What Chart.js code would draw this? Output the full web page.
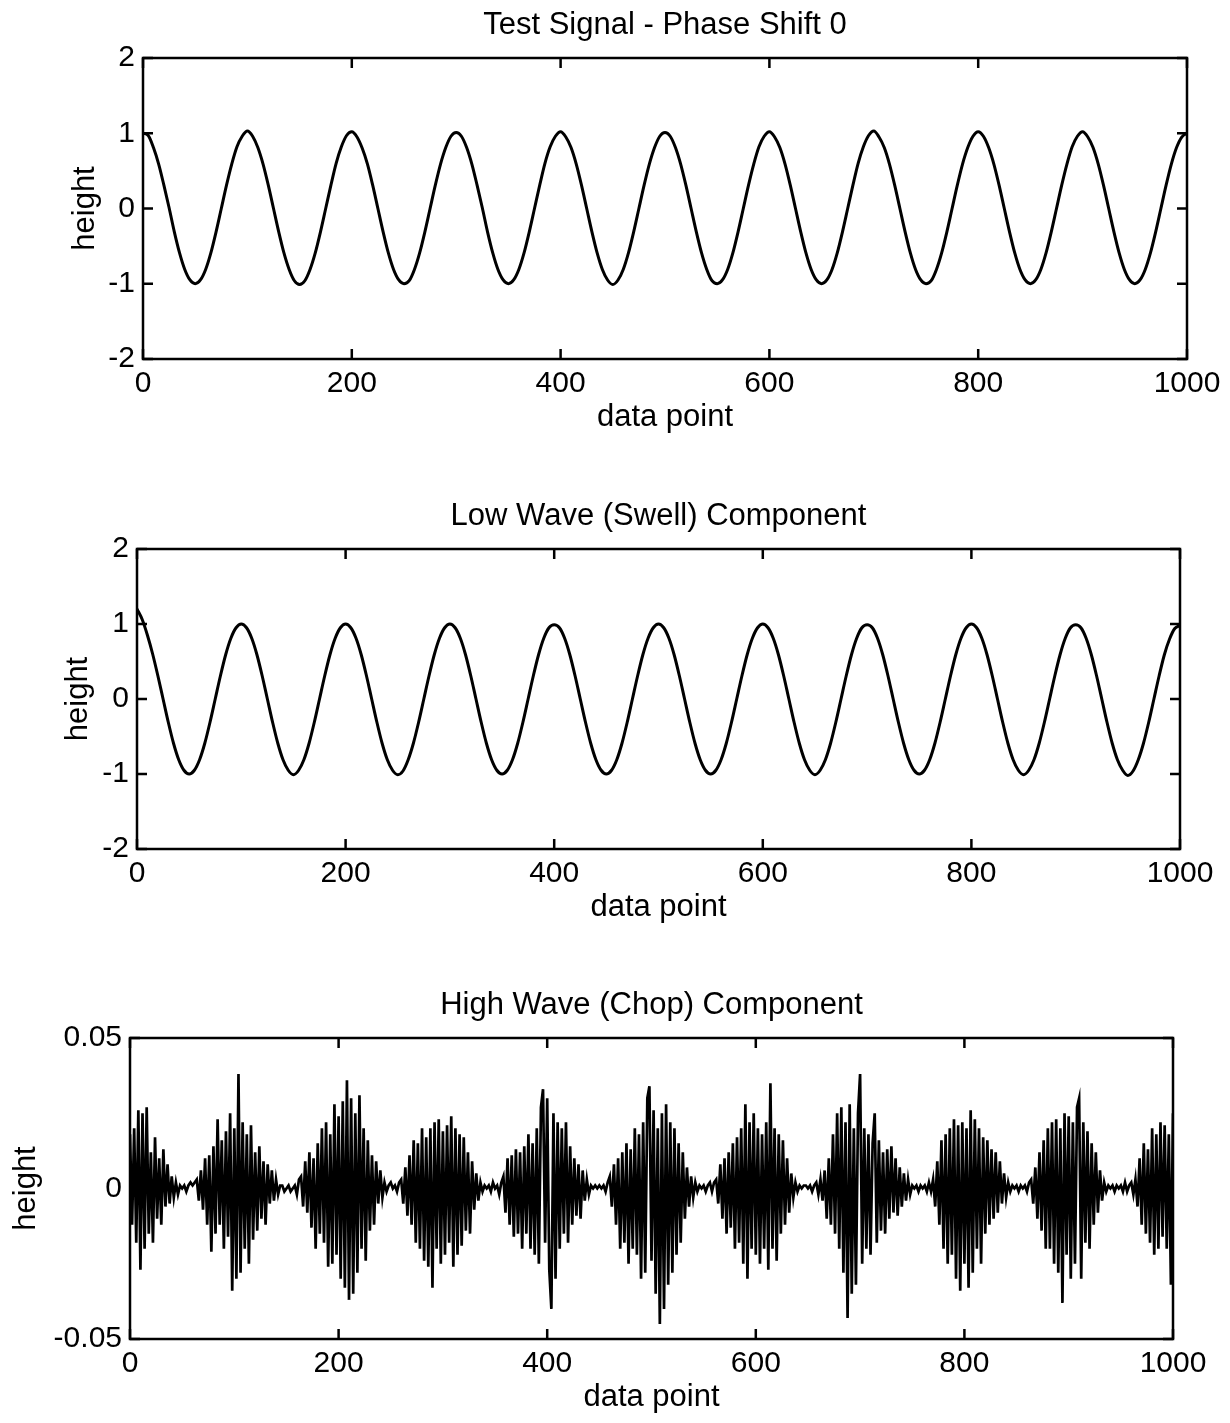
<!DOCTYPE html>
<html>
<head>
<meta charset="utf-8">
<title>Test signal decomposition</title>
<script src="https://cdn.jsdelivr.net/npm/chart.js@4.4.1/dist/chart.umd.min.js"></script>
<style>
    html, body { margin: 0; padding: 0; background: #fff; overflow: hidden; }
    canvas { position: absolute; left: 0; }
</style>
</head>
<body>
<canvas id="test-chart" width="1230" height="460" style="top:0px"></canvas>
<canvas id="swell-chart" width="1230" height="460" style="top:491px"></canvas>
<canvas id="chop-chart" width="1230" height="443" style="top:980px"></canvas>
<script>
// axis ticks
const xTicks = [0, 200, 400, 600, 800, 1000];
const xTickLabels = ['0', '200', '400', '600', '800', '1000'];
const heightTicks = [-2, -1, 0, 1, 2];
const heightTickLabels = ['-2', '-1', '0', '1', '2'];
const chopTicks = [-0.05, 0, 0.05];
const chopTickLabels = ['-0.05', '0', '0.05'];

// sample spacing (data points) of the arrays below
const swellStep = 5;
const chopStep = 2;

// test signal, one swell cycle per row (x = 0, 5, 10 ... 1000)
const testHeight = [
    1.00, .97, .81, .59, .31, .01, -.31, -.59, -.81, -.95, -1.00, -.95, -.81, -.59, -.31, .00, .31, .59, .82, .96,
    1.03, .96, .81, .59, .31, .00, -.31, -.59, -.81, -.96, -1.01, -.96, -.81, -.59, -.31, .00, .31, .60, .82, .97,
    1.02, .95, .80, .59, .31, .00, -.31, -.59, -.81, -.95, -1.00, -.96, -.81, -.59, -.31, .00, .31, .59, .81, .96,
    1.01, .96, .81, .59, .31, .01, -.31, -.59, -.81, -.95, -1.00, -.95, -.81, -.59, -.31, .00, .31, .60, .82, .96,
    1.02, .95, .81, .59, .31, .00, -.31, -.59, -.81, -.95, -1.01, -.95, -.81, -.59, -.31, .00, .31, .59, .81, .96,
    1.01, .96, .81, .59, .31, .00, -.31, -.59, -.81, -.96, -1.00, -.95, -.81, -.59, -.31, .00, .31, .59, .82, .96,
    1.02, .95, .81, .59, .31, .00, -.31, -.59, -.81, -.95, -1.00, -.95, -.81, -.59, -.31, .00, .31, .60, .82, .97,
    1.03, .95, .81, .59, .31, .00, -.31, -.59, -.81, -.95, -1.00, -.96, -.81, -.59, -.31, .00, .31, .59, .81, .96,
    1.02, .96, .81, .59, .31, .00, -.31, -.59, -.81, -.95, -1.00, -.95, -.81, -.59, -.31, .00, .31, .59, .82, .96,
    1.02, .95, .81, .59, .31, .00, -.31, -.59, -.81, -.95, -1.00, -.95, -.81, -.59, -.31, .00, .31, .59, .81, .95,
    1.00
];

// low wave (swell) component, same sampling
const swellHeight = [
    1.20, 1.06, .85, .60, .31, .00, -.31, -.59, -.81, -.95, -1.00, -.95, -.81, -.59, -.31, .00, .31, .59, .81, .95,
    1.00, .95, .81, .59, .31, .00, -.31, -.59, -.81, -.95, -1.01, -.95, -.81, -.59, -.31, .00, .31, .59, .81, .95,
    1.00, .95, .81, .59, .31, .00, -.31, -.59, -.81, -.95, -1.01, -.96, -.81, -.59, -.31, .00, .31, .59, .81, .95,
    1.00, .95, .81, .59, .31, .00, -.31, -.59, -.81, -.95, -1.00, -.95, -.81, -.59, -.31, .00, .31, .59, .81, .95,
    .99, .95, .81, .59, .31, .00, -.31, -.59, -.81, -.95, -1.00, -.95, -.81, -.59, -.31, .00, .31, .59, .81, .95,
    1.00, .95, .81, .59, .31, .00, -.31, -.59, -.81, -.95, -1.00, -.95, -.81, -.59, -.31, .00, .31, .59, .81, .95,
    1.00, .95, .81, .59, .31, .00, -.31, -.59, -.81, -.95, -1.01, -.95, -.81, -.59, -.31, .00, .31, .59, .81, .95,
    .99, .95, .81, .59, .31, .00, -.31, -.59, -.81, -.95, -1.00, -.95, -.81, -.59, -.31, .00, .31, .59, .81, .95,
    1.00, .95, .81, .59, .31, .00, -.31, -.59, -.81, -.95, -1.01, -.95, -.81, -.59, -.31, .00, .31, .59, .81, .95,
    .99, .95, .81, .59, .31, .00, -.31, -.59, -.81, -.95, -1.02, -.96, -.81, -.59, -.31, .00, .31, .59, .80, .94,
    .98
];

// high wave (chop) component, ten samples per row (x = 0, 2, 4 ... 1000)
const chopHeight = [
    .018, -.012, .02, -.018, .026, -.027, .025, -.02, .027, -.015,
    .012, -.018, .017, -.01, .01, -.012, .013, -.006, .008, -.005,
    .004, -.003, .002, -.002, .001, 0, .001, -.001, .001, .002,
    .001, .002, .003, -.004, .006, -.007, .01, -.012, .011, -.021,
    .014, -.015, .023, -.012, .016, -.02, .019, -.016, .025, -.034,
    .02, -.03, .038, -.028, .022, -.02, .018, -.025, .021, -.017,
    .012, -.014, .014, -.01, .009, -.012, .008, -.005, .006, -.004,
    .003, -.002, .001, .001, -.001, 0, .001, -.001, 0, .001,
    -.002, .003, .004, -.006, .009, -.008, .012, -.013, .01, -.02,
    .015, -.015, .02, -.018, .022, -.026, .018, -.025, .028, -.022,
    .024, -.03, .029, -.033, .036, -.037, .03, -.035, .025, -.028,
    .031, -.02, .02, -.024, .016, -.014, .011, -.012, .009, -.005,
    .006, -.003, .002, -.001, .001, .002, 0, .001, -.001, .002,
    .003, -.005, .007, -.009, .011, -.012, .016, -.018, .015, -.02,
    .02, -.024, .017, -.026, .02, -.033, .022, -.02, .023, -.025,
    .019, -.022, .021, -.018, .024, -.026, .02, -.022, .018, -.019,
    .017, -.014, .012, -.015, .009, -.007, .005, -.004, .002, -.001,
    .001, 0, .001, -.001, .002, 0, .001, -.002, .002, .004,
    -.008, .01, -.012, .011, -.016, .013, -.015, .012, -.02, .014,
    -.015, .018, -.02, .015, -.022, .02, -.025, .027, .033, -.018,
    .03, -.027, -.04, .025, -.03, .022, -.02, .02, -.015, .022,
    -.018, .014, -.012, .01, -.009, .008, -.01, .006, -.004, .003,
    -.002, .001, 0, .001, 0, .001, 0, .001, -.001, .002,
    .004, -.006, .008, -.012, .01, -.02, .012, -.018, .015, -.025,
    .013, -.02, .02, -.022, .018, -.03, .022, -.028, .03, .034,
    -.024, .026, -.035, .02, -.045, .025, -.04, .028, -.032, .022,
    -.028, .02, -.022, .015, -.018, .012, -.01, .007, -.006, .004,
    -.003, .002, -.001, .001, 0, .001, -.001, .001, .002, -.001,
    .002, .003, -.005, .008, -.01, .01, -.015, .012, -.013, .015,
    -.02, .017, -.018, .02, -.025, .028, -.03, .022, -.02, .025,
    -.022, .02, -.025, .018, -.02, .022, -.027, .035, -.02, .02,
    -.024, .018, -.015, .016, -.012, .01, -.008, .005, -.003, .002,
    -.001, .001, 0, .001, .001, 0, .001, -.001, .001, .002,
    -.002, .003, -.004, .006, -.01, .01, -.012, .018, -.015, .025,
    -.02, .027, -.028, .022, -.043, .028, -.035, .02, -.032, .025,
    .038, -.025, .02, -.02, .018, -.022, .015, .025, -.018, .016,
    -.014, .012, -.015, .013, -.01, .014, -.008, .01, -.009, .007,
    -.006, .005, -.004, .003, -.002, .001, 0, .001, -.001, .001,
    0, .001, -.001, .002, -.001, .003, -.006, .009, -.012, .016,
    -.02, .018, -.025, .02, -.022, .023, -.03, .021, -.034, .022,
    -.025, .02, -.033, .026, -.028, .023, -.02, .02, -.025, .017,
    -.015, .016, -.012, .013, -.01, .012, -.008, .009, -.005, .005,
    -.003, .002, -.001, .001, 0, .001, -.001, .001, 0, .001,
    -.001, .002, .003, -.005, .007, -.01, .012, -.014, .016, -.02,
    .02, -.02, .022, -.025, .023, -.028, .02, -.038, .025, -.022,
    .024, -.03, .022, -.025, .027, .03, -.03, .022, -.018, .019,
    -.02, .015, -.012, .012, -.008, .006, -.004, .002, -.001, .001,
    0, .001, -.001, .001, 0, .001, -.001, .002, -.001, .001,
    .002, -.002, .003, -.006, .01, -.012, .015, -.015, .013, -.018,
    .02, -.022, .018, -.02, .022, -.016, .021, -.02, .018, -.032,
    .025
];

const fontFamily = '"Liberation Sans", Arial, Helvetica, sans-serif';
Chart.defaults.font.family = fontFamily;
Chart.defaults.color = '#000';

// matlab style box with inward tick marks on all four sides
const frame = {
    id: 'frame',
    afterDraw(chart) {
        const {ctx, chartArea: a, scales: {x, y}} = chart;
        ctx.save();
        ctx.strokeStyle = '#000';
        ctx.lineWidth = 2.5;
        ctx.strokeRect(a.left, a.top, a.right - a.left, a.bottom - a.top);
        ctx.beginPath();
        x.ticks.forEach((t) => {
            const px = x.getPixelForValue(t.value);
            ctx.moveTo(px, a.bottom);
            ctx.lineTo(px, a.bottom - 10);
            ctx.moveTo(px, a.top);
            ctx.lineTo(px, a.top + 10);
        });
        y.ticks.forEach((t) => {
            const py = y.getPixelForValue(t.value);
            ctx.moveTo(a.left, py);
            ctx.lineTo(a.left + 10, py);
            ctx.moveTo(a.right, py);
            ctx.lineTo(a.right - 10, py);
        });
        ctx.stroke();
        ctx.restore();
    }
};

function drawPanel(id, title, values, step, yTicks, yLabels, box, lineWidth, smooth) {
    const canvas = document.getElementById(id);
    const h = canvas.height;
    const half = 31 * 1.2 / 2;
    const points = values.map((v, i) => ({x: i * step, y: v}));
    return new Chart(canvas, {
        type: 'line',
        data: {
            datasets: [{
                data: points,
                borderColor: '#000',
                borderWidth: lineWidth,
                pointRadius: 0,
                fill: false,
                tension: 0,
                cubicInterpolationMode: smooth ? 'monotone' : 'default',
            }]
        },
        options: {
            responsive: false,
            animation: false,
            devicePixelRatio: 1,
            parsing: false,
            layout: {padding: {left: 0, right: 1230 - box.right, top: 0, bottom: 0}},
            plugins: {
                legend: {display: false},
                tooltip: {enabled: false},
                title: {
                    display: true,
                    text: title,
                    fullSize: false,
                    color: '#000',
                    font: {size: 31, weight: 'normal'},
                    padding: {top: 6.4, bottom: 14.4},
                },
            },
            scales: {
                x: {
                    type: 'linear',
                    min: 0,
                    max: 1000,
                    grid: {display: false, drawTicks: false},
                    border: {display: false},
                    afterBuildTicks: (s) => { s.ticks = xTicks.map((v) => ({value: v})); },
                    afterFit: (s) => { s.height = h - box.bottom; },
                    ticks: {
                        font: {size: 30},
                        padding: 7,
                        maxRotation: 0,
                        autoSkip: false,
                        callback: (v) => xTickLabels[xTicks.indexOf(v)],
                    },
                    title: {
                        display: true,
                        text: 'data point',
                        font: {size: 31},
                        padding: {top: 0, bottom: h - box.bottom - 58 - half},
                    },
                },
                y: {
                    type: 'linear',
                    min: yTicks[0],
                    max: yTicks[yTicks.length - 1],
                    grid: {display: false, drawTicks: false},
                    border: {display: false},
                    afterBuildTicks: (s) => { s.ticks = yTicks.map((v) => ({value: v})); },
                    afterFit: (s) => { s.width = box.left; },
                    ticks: {
                        font: {size: 30},
                        padding: 8,
                        autoSkip: false,
                        callback: (v) => yLabels[yTicks.indexOf(v)],
                    },
                    title: {
                        display: true,
                        text: 'height',
                        font: {size: 31},
                        padding: {top: box.yTitle - half, bottom: 0},
                    },
                },
            },
        },
        plugins: [frame],
    });
}

drawPanel('test-chart', 'Test Signal - Phase Shift 0', testHeight, swellStep,
    heightTicks, heightTickLabels, {left: 143, right: 1187, bottom: 359, yTitle: 85}, 3, true);
drawPanel('swell-chart', 'Low Wave (Swell) Component', swellHeight, swellStep,
    heightTicks, heightTickLabels, {left: 137, right: 1180, bottom: 358, yTitle: 78}, 3, true);
drawPanel('chop-chart', 'High Wave (Chop) Component', chopHeight, chopStep,
    chopTicks, chopTickLabels, {left: 130, right: 1173, bottom: 359, yTitle: 26}, 2.7, false);
</script>
</body>
</html>
